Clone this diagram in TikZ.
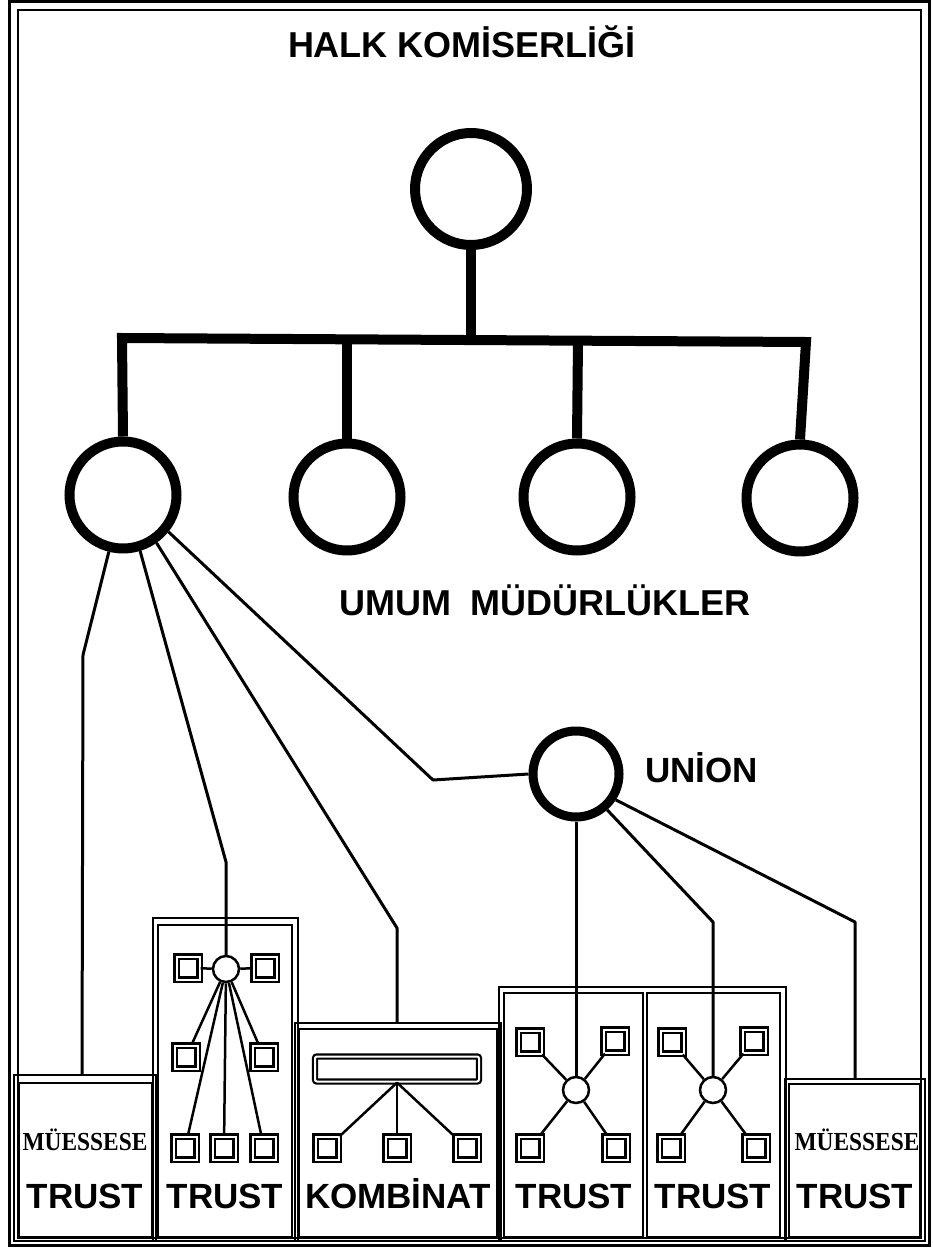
\documentclass[tikz,border=0pt]{standalone}
\usepackage{fontspec}
\setmainfont{Liberation Sans}
\newfontfamily\serifbf{Liberation Serif}
\begin{document}
\begin{tikzpicture}[x=1pt,y=-1pt,
  bigring/.style={circle, draw, line width=10pt, fill=white, inner sep=0pt, minimum size=#1},
  smallring/.style={circle, draw, line width=2.5pt, fill=white, inner sep=0pt, minimum size=26pt},
  sq/.style={draw, double=white, double distance=2pt, line width=2.2pt, fill=white, inner sep=0pt, minimum size=23pt},
  conn/.style={line width=3pt, line join=round},
  inconn/.style={line width=2.5pt},
  thickconn/.style={line width=10pt, line join=miter},
  boxline/.style={line width=2.5pt},
  big/.style={font=\fontsize{36}{40}\selectfont\bfseries, anchor=base, inner sep=0pt},
  lab/.style={font=\fontsize{35}{40}\selectfont\bfseries, anchor=base, inner sep=0pt},
  mues/.style={font=\serifbf\bfseries\fontsize{26}{30}\selectfont, anchor=base, inner sep=0pt}]
\useasboundingbox (0,0) rectangle (933,1252);
\fill[white] (0,0) rectangle (933,1252);
% frame
\draw[line width=3pt] (9,2) rectangle (929,1245);
\draw[line width=2pt] (18,10) rectangle (921,1238);
% boxes
\draw[boxline] (14,1075) rectangle (156,1241);
\draw[boxline] (19,1083) rectangle (152,1237);
\draw[boxline] (153,918) rectangle (298,1241);
\draw[boxline] (158,925) rectangle (292,1237);
\draw[boxline] (295,1023) rectangle (501,1241);
\draw[boxline] (299,1029) rectangle (497,1237);
\draw[boxline] (499,987) rectangle (786,1241);
\draw[boxline] (504,993) rectangle (643,1237);
\draw[boxline] (647,993) rectangle (780,1237);
\draw[boxline] (785,1079) rectangle (925,1241);
\draw[boxline] (789,1084) rectangle (920,1237);
\coordinate (b1in) at (82,1075);
\coordinate (b3in) at (397,1023);
\coordinate (b6in) at (855,1079);
% circles
\node[bigring=112pt] (hk) at (471,189) {};
\node[bigring=107pt] (c1) at (123,495) {};
\node[bigring=107pt] (c2) at (347,497) {};
\node[bigring=107pt] (c3) at (577,497) {};
\node[bigring=107pt] (c4) at (800,498) {};
\node[circle, draw, line width=9pt, fill=white, inner sep=0pt, minimum size=86pt] (un) at (576,774) {};
% thick hierarchy
\draw[thickconn] (c1.north) -- (122,338) -- (806,342) -- (c4.north);
\draw[thickconn] (hk.south) -- (471,340);
\draw[thickconn] (c2.north) -- (347,339);
\draw[thickconn] (c3.north) -- (578,341);
% box 2 contents
\node[smallring] (t2c) at (226,969) {};
\node[sq] (t2a) at (188,968) {};
\node[sq] (t2b) at (265,968) {};
\node[sq] (t2d) at (186,1057) {};
\node[sq] (t2e) at (264,1057) {};
\node[sq] (t2f) at (185,1148) {};
\node[sq] (t2g) at (224,1148) {};
\node[sq] (t2h) at (264,1148) {};
\foreach \s in {t2a,t2b,t2d,t2e,t2f,t2g,t2h} \draw[inconn] (t2c) -- (\s);
% kombinat
\node[draw, double=white, double distance=2pt, line width=2.2pt, rounded corners=2pt, inner sep=0pt, minimum width=164pt, minimum height=25pt] (kb) at (397,1069) {};
\node[sq] (k1) at (327,1148) {};
\node[sq] (k2) at (397,1148) {};
\node[sq] (k3) at (467,1148) {};
\foreach \s in {k1,k2,k3} \draw[inconn] (kb.south) -- (\s);
% box 4
\node[smallring] (t4c) at (576,1090) {};
\node[sq] (q4a) at (530,1042) {};
\node[sq] (q4b) at (615,1041) {};
\node[sq] (q4c) at (530,1148) {};
\node[sq] (q4d) at (616,1148) {};
\foreach \s in {q4a,q4b,q4c,q4d} \draw[inconn] (t4c) -- (\s);
% box 5
\node[smallring] (t5c) at (713,1090) {};
\node[sq] (q5a) at (672,1042) {};
\node[sq] (q5b) at (754,1041) {};
\node[sq] (q5c) at (671,1148) {};
\node[sq] (q5d) at (756,1148) {};
\foreach \s in {q5a,q5b,q5c,q5d} \draw[inconn] (t5c) -- (\s);
% connectors
\draw[conn] (c1.256) -- (83,655) -- (b1in);
\draw[conn] (c1.287) -- (226,862) -- (t2c.north);
\draw[conn] (c1.-55) -- (397,928) -- (b3in);
\draw[conn] (c1.-39) -- (433,780) -- (un.west);
\draw[conn] (un.south) -- (t4c.north);
\draw[conn] (un.-49) -- (713,922) -- (t5c.north);
\draw[conn] (un.-33) -- (855,922) -- (b6in);
% texts
\node[big] (title) at (462,58) {HALK KOMİSERLİĞİ};
\node[big] (umum) at (545,615) {UMUM\hspace{20pt}MÜDÜRLÜKLER};
\node[lab, anchor=base west] (union) at (645,782) {UNİON};
\node[mues] (m1) at (85,1150) {\scalebox{0.9}[1]{MÜESSESE}};
\node[mues] (m6) at (857,1150) {\scalebox{0.9}[1]{MÜESSESE}};
\node[lab] (tr1) at (85,1208) {TRUST};
\node[lab] (tr2) at (225,1208) {TRUST};
\node[lab] (kom) at (398,1208) {KOMBİNAT};
\node[lab] (tr4) at (574,1208) {TRUST};
\node[lab] (tr5) at (713,1208) {TRUST};
\node[lab] (tr6) at (855,1208) {TRUST};
\end{tikzpicture}
\end{document}
